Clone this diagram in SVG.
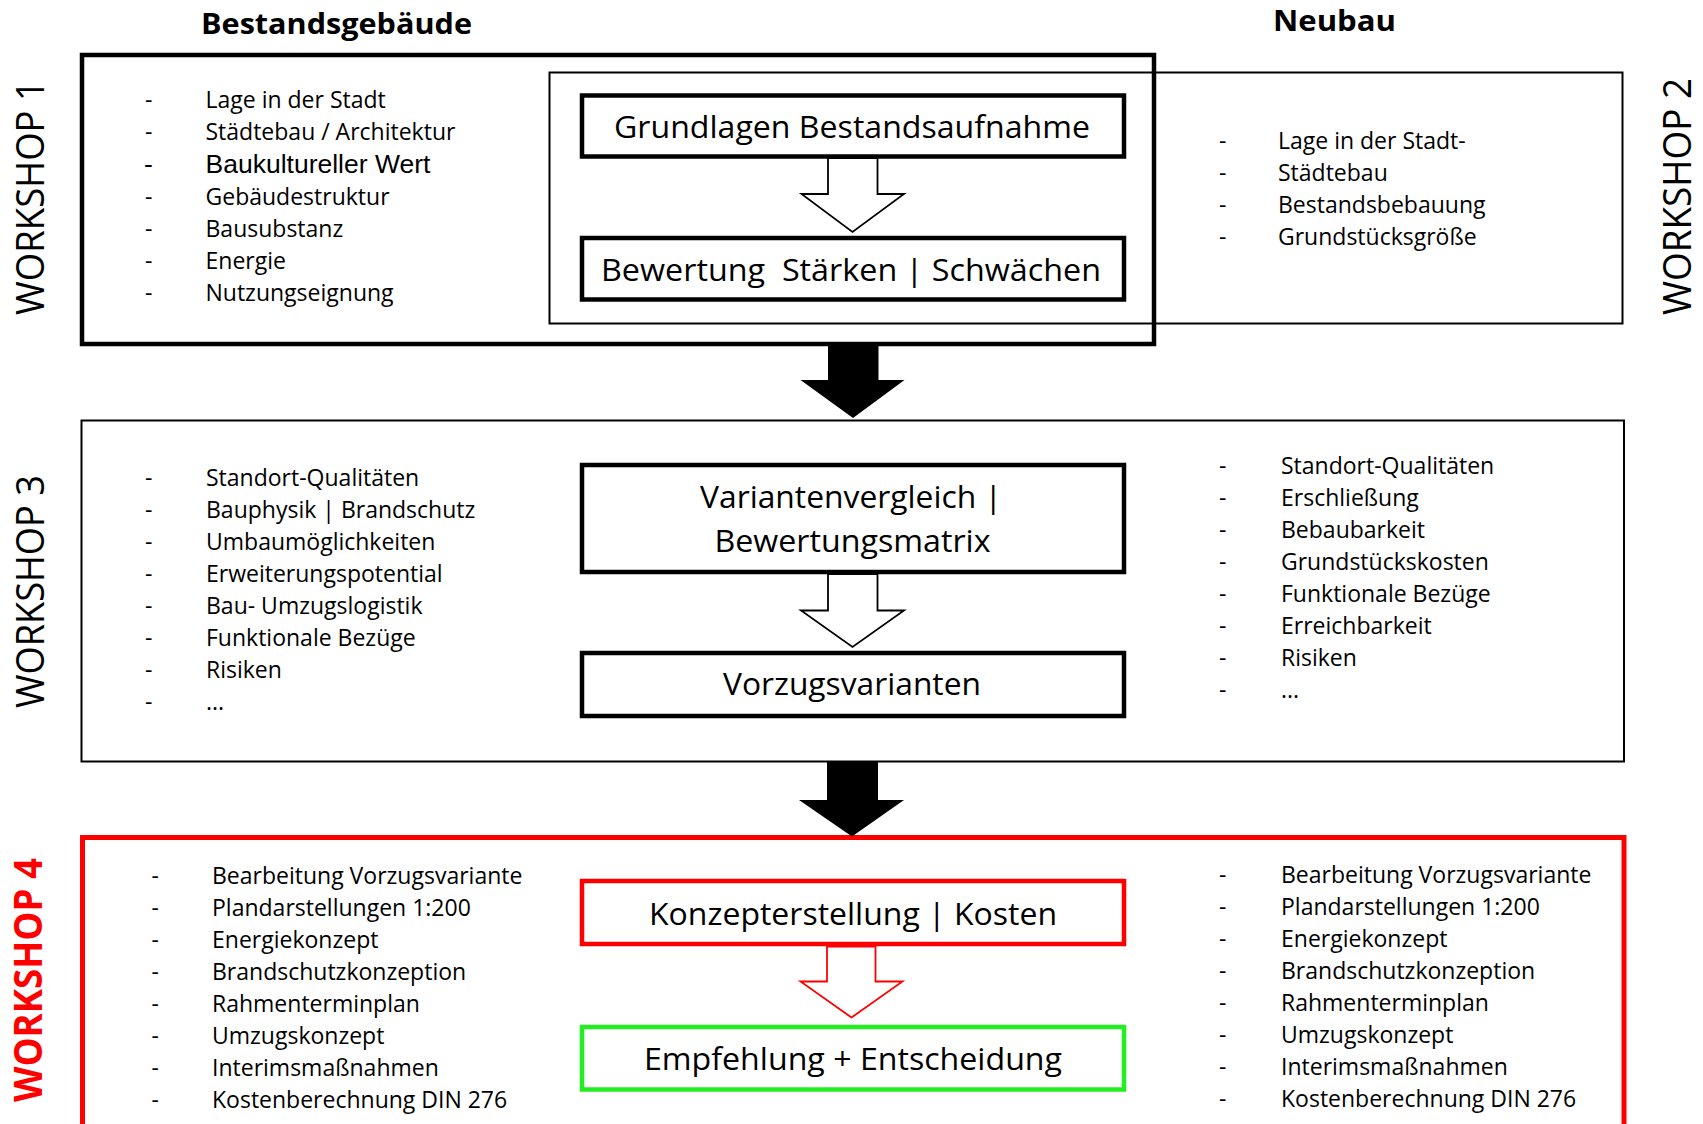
<svg xmlns="http://www.w3.org/2000/svg" width="1703" height="1124" viewBox="0 0 1703 1124">
  <style>
    text { font-family: "Open Sans", "Liberation Sans", sans-serif; fill: #000; }
    .li { font-size: 23px; }
    .arial { font-family: "Liberation Sans", Arial, sans-serif; font-size: 26.5px; }
    .hdr { font-size: 29px; font-weight: bold; text-anchor: middle; }
    .lbl { font-size: 31.5px; text-anchor: middle; white-space: pre; }
    .ws { font-size: 39px; text-anchor: middle; }
    .frame { fill: none; stroke: #000; }
    .node { fill: none; stroke: #000; stroke-width: 4.5; }
    .node-red { fill: none; stroke: #ff0000; stroke-width: 4.5; }
    .node-green { fill: none; stroke: #22ee22; stroke-width: 4.5; }
    .hollow { fill: #fff; stroke: #000; stroke-width: 1.8; stroke-linejoin: miter; }
    .hollow-red { fill: #fff; stroke: #ff0000; stroke-width: 1.8; }
    .solid { fill: #000; stroke: none; }
  </style>
  <rect width="1703" height="1124" fill="#fff"/>

  <!-- column headers -->
  <g id="header-bestand"><text class="hdr" x="336.5" y="34" textLength="271" lengthAdjust="spacingAndGlyphs">Bestandsgebäude</text></g>
  <g id="header-neubau"><text class="hdr" x="1334.5" y="31" textLength="123" lengthAdjust="spacingAndGlyphs">Neubau</text></g>

  <!-- workshop 1: existing building -->
  <g id="workshop1">
    <rect class="frame" x="82" y="55" width="1072" height="289" stroke-width="4.5"/>
    <text class="ws" transform="translate(44,197.5) rotate(-90)" textLength="235" lengthAdjust="spacingAndGlyphs">WORKSHOP 1</text>
    <g class="li">
      <text x="145" y="108">-</text><text x="205.5" y="108">Lage in der Stadt</text>
      <text x="145" y="140">-</text><text x="205.5" y="140">Städtebau / Architektur</text>
      <text class="arial" x="144" y="172.5">-</text><text class="arial" x="205.5" y="172.5">Baukultureller Wert</text>
      <text x="145" y="204.5">-</text><text x="205.5" y="204.5">Gebäudestruktur</text>
      <text x="145" y="237">-</text><text x="205.5" y="237">Bausubstanz</text>
      <text x="145" y="269">-</text><text x="205.5" y="269">Energie</text>
      <text x="145" y="301">-</text><text x="205.5" y="301">Nutzungseignung</text>
    </g>
  </g>

  <!-- workshop 2: new building -->
  <g id="workshop2">
    <rect class="frame" x="549.5" y="72.5" width="1073" height="251" stroke-width="2"/>
    <text class="ws" transform="translate(1691,196.5) rotate(-90)" textLength="237" lengthAdjust="spacingAndGlyphs">WORKSHOP 2</text>
    <g class="li">
      <text x="1219" y="149">-</text><text x="1278" y="149">Lage in der Stadt-</text>
      <text x="1219" y="181">-</text><text x="1278" y="181">Städtebau</text>
      <text x="1219" y="213">-</text><text x="1278" y="213">Bestandsbebauung</text>
      <text x="1219" y="245">-</text><text x="1278" y="245">Grundstücksgröße</text>
    </g>
  </g>

  <g id="node-grundlagen">
    <rect class="node" x="582" y="95.5" width="542" height="61"/>
    <text class="lbl" x="852" y="138" textLength="476" lengthAdjust="spacingAndGlyphs">Grundlagen Bestandsaufnahme</text>
  </g>
  <g id="node-bewertung">
    <rect class="node" x="582" y="238" width="542" height="61.5"/>
    <text class="lbl" x="851" y="280.5" textLength="500" lengthAdjust="spacingAndGlyphs">Bewertung  Stärken | Schwächen</text>
  </g>

  <!-- workshop 3: comparison -->
  <g id="workshop3">
    <rect class="frame" x="81.5" y="420.5" width="1542.5" height="341" stroke-width="2"/>
    <text class="ws" transform="translate(44,591.5) rotate(-90)" textLength="233" lengthAdjust="spacingAndGlyphs">WORKSHOP 3</text>
    <g class="li">
      <text x="145" y="486">-</text><text x="206" y="486">Standort-Qualitäten</text>
      <text x="145" y="518">-</text><text x="206" y="518">Bauphysik | Brandschutz</text>
      <text x="145" y="550">-</text><text x="206" y="550">Umbaumöglichkeiten</text>
      <text x="145" y="582">-</text><text x="206" y="582">Erweiterungspotential</text>
      <text x="145" y="614">-</text><text x="206" y="614">Bau- Umzugslogistik</text>
      <text x="145" y="646">-</text><text x="206" y="646">Funktionale Bezüge</text>
      <text x="145" y="678">-</text><text x="206" y="678">Risiken</text>
      <text x="145" y="710">-</text><text x="206" y="710">...</text>
    </g>
    <g class="li">
      <text x="1219" y="474">-</text><text x="1281" y="474">Standort-Qualitäten</text>
      <text x="1219" y="506">-</text><text x="1281" y="506">Erschließung</text>
      <text x="1219" y="538">-</text><text x="1281" y="538">Bebaubarkeit</text>
      <text x="1219" y="570">-</text><text x="1281" y="570">Grundstückskosten</text>
      <text x="1219" y="602">-</text><text x="1281" y="602">Funktionale Bezüge</text>
      <text x="1219" y="634">-</text><text x="1281" y="634">Erreichbarkeit</text>
      <text x="1219" y="666">-</text><text x="1281" y="666">Risiken</text>
      <text x="1219" y="698">-</text><text x="1281" y="698">...</text>
    </g>
  </g>

  <g id="node-variantenvergleich">
    <rect class="node" x="582" y="465" width="542" height="107"/>
    <text class="lbl" x="851" y="508" textLength="302" lengthAdjust="spacingAndGlyphs">Variantenvergleich |</text>
    <text class="lbl" x="852.5" y="551.5" textLength="276" lengthAdjust="spacingAndGlyphs">Bewertungsmatrix</text>
  </g>
  <g id="node-vorzugsvarianten">
    <rect class="node" x="582" y="653" width="542" height="63"/>
    <text class="lbl" x="852" y="695" textLength="258" lengthAdjust="spacingAndGlyphs">Vorzugsvarianten</text>
  </g>

  <!-- workshop 4: concept and decision -->
  <g id="workshop4">
    <rect x="82.5" y="837.5" width="1541.5" height="290" fill="none" stroke="#ff0000" stroke-width="5"/>
    <text class="ws" transform="translate(42,980) rotate(-90)" style="fill:#ff0000;font-weight:bold" textLength="244" lengthAdjust="spacingAndGlyphs">WORKSHOP 4</text>
    <g class="li">
      <text x="151.5" y="884">-</text><text x="212" y="884">Bearbeitung Vorzugsvariante</text>
      <text x="151.5" y="916">-</text><text x="212" y="916">Plandarstellungen 1:200</text>
      <text x="151.5" y="948">-</text><text x="212" y="948">Energiekonzept</text>
      <text x="151.5" y="980">-</text><text x="212" y="980">Brandschutzkonzeption</text>
      <text x="151.5" y="1012">-</text><text x="212" y="1012">Rahmenterminplan</text>
      <text x="151.5" y="1044">-</text><text x="212" y="1044">Umzugskonzept</text>
      <text x="151.5" y="1076">-</text><text x="212" y="1076">Interimsmaßnahmen</text>
      <text x="151.5" y="1108">-</text><text x="212" y="1108">Kostenberechnung DIN 276</text>
    </g>
    <g class="li">
      <text x="1219" y="883">-</text><text x="1281" y="883">Bearbeitung Vorzugsvariante</text>
      <text x="1219" y="915">-</text><text x="1281" y="915">Plandarstellungen 1:200</text>
      <text x="1219" y="947">-</text><text x="1281" y="947">Energiekonzept</text>
      <text x="1219" y="979">-</text><text x="1281" y="979">Brandschutzkonzeption</text>
      <text x="1219" y="1011">-</text><text x="1281" y="1011">Rahmenterminplan</text>
      <text x="1219" y="1043">-</text><text x="1281" y="1043">Umzugskonzept</text>
      <text x="1219" y="1075">-</text><text x="1281" y="1075">Interimsmaßnahmen</text>
      <text x="1219" y="1107">-</text><text x="1281" y="1107">Kostenberechnung DIN 276</text>
    </g>
  </g>

  <g id="node-konzept">
    <rect class="node-red" x="582" y="881" width="542" height="63"/>
    <text class="lbl" x="853" y="925" textLength="408" lengthAdjust="spacingAndGlyphs">Konzepterstellung | Kosten</text>
  </g>
  <g id="node-empfehlung">
    <rect class="node-green" x="582" y="1027" width="542" height="62.5"/>
    <text class="lbl" x="853" y="1070" textLength="418" lengthAdjust="spacingAndGlyphs">Empfehlung + Entscheidung</text>
  </g>

  <!-- connectors -->
  <g id="connectors">
    <polygon class="hollow" points="828,158 828,194 801.5,194 852.5,232 904,194 877.5,194 877.5,158"/>
    <polygon class="solid" points="828,346 878.5,346 878.5,380 904.5,380 853,418 800.5,380 828,380"/>
    <polygon class="hollow" points="828,574 828,610.5 801,610.5 852.5,647 904,610.5 877.5,610.5 877.5,574"/>
    <polygon class="solid" points="827,762 878,762 878,800 904,800 852,836.5 799,800 827,800"/>
    <polygon class="hollow-red" points="827,946.5 827,981.5 800.5,981.5 851.5,1017.5 902.5,981.5 875.5,981.5 875.5,946.5"/>
  </g>
</svg>
